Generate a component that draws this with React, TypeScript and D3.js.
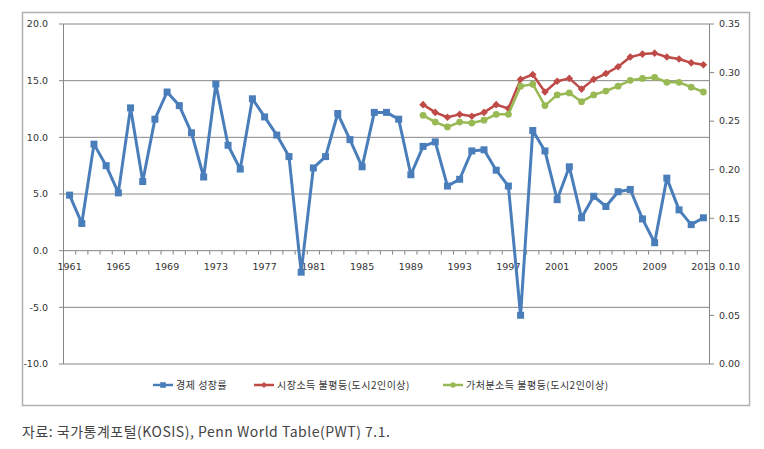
import React from "react";
import * as d3 from "d3";

const years: number[] = d3.range(1961, 2014);
const growth: number[] = [
  4.9, 2.4, 9.4, 7.5, 5.1, 12.6, 6.1, 11.6, 14.0, 12.8,
  10.4, 6.5, 14.7, 9.3, 7.2, 13.4, 11.8, 10.2, 8.3, -1.9,
  7.3, 8.3, 12.1, 9.8, 7.4, 12.2, 12.2, 11.6, 6.7, 9.2,
  9.6, 5.7, 6.3, 8.8, 8.9, 7.1, 5.7, -5.7, 10.6, 8.8,
  4.5, 7.4, 2.9, 4.8, 3.9, 5.2, 5.4, 2.8, 0.7, 6.4,
  3.6, 2.3, 2.9,
];
const giniYears: number[] = d3.range(1990, 2014);
const giniMarket: number[] = [
  0.267, 0.259, 0.254, 0.257, 0.255, 0.259, 0.267, 0.263, 0.293, 0.298,
  0.280, 0.291, 0.294, 0.283, 0.293, 0.299, 0.306, 0.316, 0.319, 0.320,
  0.316, 0.314, 0.310, 0.308,
];
const giniDisposable: number[] = [
  0.256, 0.249, 0.244, 0.249, 0.248, 0.251, 0.257, 0.257, 0.286, 0.288,
  0.266, 0.277, 0.279, 0.270, 0.277, 0.281, 0.286, 0.292, 0.294, 0.295,
  0.290, 0.290, 0.285, 0.280,
];
const leftTicks: number[] = [-10, -5, 0, 5, 10, 15, 20];
const rightTicks: number[] = [0, 0.05, 0.1, 0.15, 0.2, 0.25, 0.3, 0.35];
const labelYears: number[] = years.filter((y) => (y - 1961) % 4 === 0);
const seriesNames: string[] = ["경제 성장률", "시장소득 불평등(도시2인이상)", "가처분소득 불평등(도시2인이상)"];
const sourceText = "자료: 국가통계포털(KOSIS), Penn World Table(PWT) 7.1.";

const BLUE = "#4A7EBB";
const RED = "#BE4B48";
const GREEN = "#98B954";
const GRID = "#868686";
const TXT = "#333";
const FONT = "'DejaVu Sans', sans-serif";
const KFONT = "'Noto Sans CJK KR', sans-serif";

export default function App() {
  const L = 63.5, R = 709.5, T = 24, B = 364;
  const x = d3.scaleBand<number>().domain(years).range([L, R]).padding(0);
  const cx = (y: number) => (x(y) as number) + x.bandwidth() / 2;
  const yL = d3.scaleLinear().domain([-10, 20]).range([B, T]);
  const yR = d3.scaleLinear().domain([0, 0.35]).range([B, T]);

  const lineL = d3.line<number>().x((_, i) => cx(years[i])).y((d) => yL(d));
  const lineR = d3.line<number>().x((_, i) => cx(giniYears[i])).y((d) => yR(d));

  const zeroY = yL(0);
  const diamond = (px: number, py: number, s: number) =>
    `M${px},${py - s}L${px + s},${py}L${px},${py + s}L${px - s},${py}Z`;

  const legendY = 385;
  const legendItems = [
    { x: 153, color: BLUE, kind: "square", name: seriesNames[0] },
    { x: 254, color: RED, kind: "diamond", name: seriesNames[1] },
    { x: 443, color: GREEN, kind: "circle", name: seriesNames[2] },
  ];

  const marker = (kind: string, px: number, py: number, color: string, key: any, scale = 1) => {
    if (kind === "square")
      return <rect key={key} x={px - 3.5 * scale} y={py - 3.5 * scale} width={7 * scale} height={7 * scale} fill={color} />;
    if (kind === "diamond")
      return <path key={key} d={diamond(px, py, 3.8 * scale)} fill={color} />;
    return <circle key={key} cx={px} cy={py} r={3.4 * scale} fill={color} />;
  };

  return (
    <div style={{ position: "absolute", left: 0, top: 0 }}>
      <svg width={764} height={449} style={{ display: "block", background: "#fff" }}>
        <rect x={22.5} y={12.5} width={727} height={393} fill="#fff" stroke="#b0b0b0" strokeWidth={1.5} />
        {leftTicks.map((t) => (
          <g key={"g" + t}>
            <line x1={L} x2={R} y1={yL(t)} y2={yL(t)} stroke={GRID} strokeWidth={1} />
            <line x1={L - 4.5} x2={L} y1={yL(t)} y2={yL(t)} stroke={GRID} strokeWidth={1} />
            <text x={48} y={yL(t)} dy="0.35em" textAnchor="end" fontSize={9.5} fill={TXT} fontFamily={FONT}>
              {t.toFixed(1)}
            </text>
          </g>
        ))}
        <line x1={L} x2={L} y1={T} y2={B} stroke={GRID} strokeWidth={1} />
        <line x1={R} x2={R} y1={T} y2={B} stroke={GRID} strokeWidth={1} />
        {rightTicks.map((t) => (
          <g key={"r" + t}>
            <line x1={R} x2={R + 4.5} y1={yR(t)} y2={yR(t)} stroke={GRID} strokeWidth={1} />
            <text x={719} y={yR(t)} dy="0.35em" textAnchor="start" fontSize={9.5} fill={TXT} fontFamily={FONT}>
              {t.toFixed(2)}
            </text>
          </g>
        ))}
        {years.concat([2014]).map((yr, i) => {
          const px = L + i * x.bandwidth();
          return <line key={"xt" + yr} x1={px} x2={px} y1={zeroY} y2={zeroY + 4} stroke={GRID} strokeWidth={1} />;
        })}
        {labelYears.map((yr) => (
          <text key={"xl" + yr} x={cx(yr)} y={zeroY + 19} textAnchor="middle" fontSize={9.5} fill={TXT} fontFamily={FONT}>
            {yr}
          </text>
        ))}
        <path d={lineR(giniMarket) || ""} fill="none" stroke={RED} strokeWidth={2.5} strokeLinejoin="round" />
        {giniMarket.map((v, i) => marker("diamond", cx(giniYears[i]), yR(v), RED, "rm" + i))}
        <path d={lineR(giniDisposable) || ""} fill="none" stroke={GREEN} strokeWidth={2.5} strokeLinejoin="round" />
        {giniDisposable.map((v, i) => marker("circle", cx(giniYears[i]), yR(v), GREEN, "gm" + i))}
        <path d={lineL(growth) || ""} fill="none" stroke={BLUE} strokeWidth={3} strokeLinejoin="round" />
        {growth.map((v, i) => marker("square", cx(years[i]), yL(v), BLUE, "bm" + i))}
        {legendItems.map((it, i) => (
          <g key={"lg" + i}>
            <line x1={it.x} x2={it.x + 20} y1={legendY} y2={legendY} stroke={it.color} strokeWidth={2.5} />
            {marker(it.kind, it.x + 10, legendY, it.color, "lm" + i, 0.8)}
            <text x={it.x + 23} y={legendY} dy="0.35em" fontSize={10} letterSpacing={0.5} fill={TXT} fontFamily={KFONT}>
              {it.name}
            </text>
          </g>
        ))}
        <text x={22} y={437} fontSize={14} letterSpacing={0.5} fill="#444" fontFamily={KFONT}>
          {sourceText}
        </text>
      </svg>
    </div>
  );
}
